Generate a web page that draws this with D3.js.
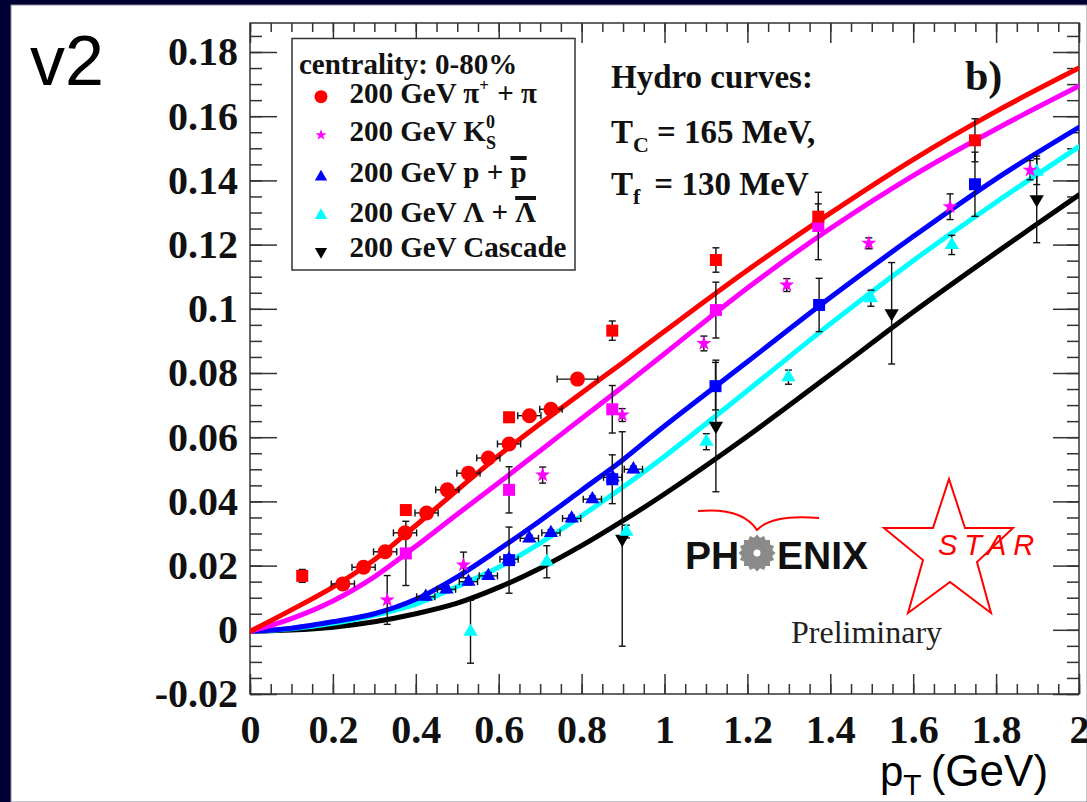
<!DOCTYPE html>
<html>
<head>
<meta charset="utf-8">
<script src="https://cdn.jsdelivr.net/npm/d3@7"></script>
<style>
    html, body { margin: 0; padding: 0; background: #000033; }
    svg { display: block; }
    text { white-space: pre; }
</style>
</head>
<body>
<svg id="chart" width="1087" height="802"></svg>
<script>
const x_ticks = [0, 0.2, 0.4, 0.6, 0.8, 1, 1.2, 1.4, 1.6, 1.8, 2];
const y_ticks = [-0.02, 0, 0.02, 0.04, 0.06, 0.08, 0.1, 0.12, 0.14, 0.16, 0.18];

// hydro curves, sampled on a common pT grid
const hydro_pt = [0, 0.1, 0.2, 0.3, 0.4, 0.5, 0.6, 0.7, 0.8, 0.9, 1.0, 1.2, 1.4, 1.6, 1.8, 2.0];
const hydro_pion = [-0.0005, 0.0062, 0.0133, 0.0218, 0.0325, 0.0435, 0.0543, 0.0642, 0.0738, 0.0833, 0.093, 0.112, 0.1298, 0.1465, 0.1615, 0.175];
const hydro_kaon = [-0.0005, 0.0035, 0.009, 0.0165, 0.026, 0.036, 0.0458, 0.0558, 0.0658, 0.0758, 0.086, 0.1065, 0.125, 0.1415, 0.156, 0.1694];
const hydro_proton = [-0.0005, 0.0005, 0.0025, 0.005, 0.0095, 0.0165, 0.025, 0.034, 0.0435, 0.053, 0.0635, 0.0835, 0.1035, 0.1225, 0.1405, 0.1565];
const hydro_lambda = [-0.0005, 0.0003, 0.002, 0.0045, 0.008, 0.0135, 0.0195, 0.027, 0.0355, 0.0445, 0.054, 0.0745, 0.0953, 0.115, 0.1332, 0.1505];
const hydro_cascade = [-0.0005, -0.0001, 0.0008, 0.0025, 0.005, 0.0083, 0.0132, 0.0192, 0.0262, 0.034, 0.0423, 0.0603, 0.0795, 0.099, 0.1175, 0.1355];

// [pT, v2, pT error, v2 error]
const pion_phenix = [
    [0.224, 0.0143, 0.028, 0.0012], [0.274, 0.0195, 0.028, 0.0012], [0.326, 0.0243, 0.028, 0.0012],
    [0.374, 0.0302, 0.028, 0.0012], [0.426, 0.0364, 0.028, 0.0012], [0.476, 0.0436, 0.028, 0.0012],
    [0.527, 0.0488, 0.028, 0.0012], [0.575, 0.0535, 0.028, 0.0012], [0.625, 0.0579, 0.028, 0.0012],
    [0.674, 0.0667, 0.028, 0.0012], [0.726, 0.0687, 0.027, 0.0012], [0.79, 0.0781, 0.049, 0.0012]
];
const pion_star = [
    [0.126, 0.0168, 0, 0.002], [0.376, 0.0373, 0, 0.0015], [0.625, 0.0662, 0, 0.0015],
    [0.874, 0.0932, 0, 0.003], [1.124, 0.1152, 0, 0.0038], [1.371, 0.1287, 0, 0.004], [1.749, 0.1525, 0, 0.0067]
];
const kaon_star = [
    [0.331, 0.0093, 0, 0.0076], [0.515, 0.0202, 0, 0.004], [0.706, 0.0482, 0, 0.0025],
    [0.898, 0.0669, 0, 0.002], [1.095, 0.0892, 0, 0.0023], [1.295, 0.1074, 0, 0.002],
    [1.493, 0.1204, 0, 0.0017], [1.689, 0.1318, 0, 0.004], [1.882, 0.1432, 0, 0.003]
];
const kaon_phenix = [
    [0.376, 0.0238, 0, 0.01], [0.625, 0.0436, 0, 0.0072], [0.874, 0.0687, 0, 0.0074],
    [1.124, 0.0996, 0, 0.0087], [1.371, 0.1258, 0, 0.0105]
];
const proton_phenix = [
    [0.424, 0.0103, 0.022, 0.001], [0.474, 0.0126, 0.022, 0.001], [0.527, 0.015, 0.022, 0.001],
    [0.575, 0.0168, 0.022, 0.001], [0.625, 0.022, 0.022, 0.001], [0.674, 0.0285, 0.022, 0.001],
    [0.726, 0.0302, 0.022, 0.001], [0.776, 0.0347, 0.022, 0.001], [0.826, 0.0407, 0.022, 0.001],
    [0.875, 0.0475, 0.022, 0.001], [0.925, 0.05, 0.022, 0.001]
];
const proton_star = [
    [0.625, 0.0217, 0, 0.0103], [0.874, 0.0469, 0, 0.0076], [1.123, 0.0759, 0, 0.0074],
    [1.373, 0.1012, 0, 0.0083], [1.749, 0.1388, 0, 0.01]
];
const lambda_star = [
    [0.532, -0.0006, 0, 0.0098], [0.716, 0.0212, 0, 0.005], [0.908, 0.0306, 0, 0.002],
    [1.101, 0.0586, 0, 0.0025], [1.299, 0.0787, 0, 0.0022], [1.498, 0.1033, 0, 0.0025],
    [1.693, 0.1199, 0, 0.003], [1.898, 0.1427, 0, 0.004]
];
const cascade_star = [
    [0.898, 0.0283, 0, 0.0334], [1.124, 0.0635, 0, 0.0205], [1.548, 0.0986, 0, 0.0158], [1.898, 0.1341, 0, 0.0135]
];

const RED = '#ff0000', MAGENTA = '#ff00ff', BLUE = '#0000ff', CYAN = '#00ffff', BLACK = '#000000';
const SERIF = '"Liberation Serif", "Times New Roman", serif';
const SANS = '"Liberation Sans", Arial, sans-serif';

const svg = d3.select('#chart');
const plot = {left: 250, right: 1079, top: 23, bottom: 694};

const x = d3.scaleLinear().domain([0, 2]).range([plot.left, plot.right]);
const y = d3.scaleLinear().domain([-0.02, 0.18]).range([plot.bottom, 52]);
const fmt = (d) => String(+d.toFixed(2));

svg.append('rect')
    .attr('x', 11).attr('y', 5).attr('width', 1076).attr('height', 797)
    .attr('fill', '#ffffff').attr('stroke', '#8a8a9a').attr('stroke-width', 1);

// axes: ticks on all four sides pointing inwards
const x_minor = d3.range(0, 41).map((i) => i * 0.05);
const y_minor = d3.range(-4, 38).map((i) => i * 0.005);

const styleAxis = (g) => {
    g.select('.domain').remove();
    g.selectAll('.tick line').attr('stroke', '#333').attr('stroke-width', 1.5);
    g.selectAll('.tick text')
        .attr('fill', '#111')
        .attr('font-family', SERIF)
        .attr('font-weight', 'bold')
        .attr('font-size', 40);
};

svg.append('g').attr('transform', `translate(0,${plot.bottom})`)
    .call(d3.axisBottom(x).tickValues(x_ticks).tickSize(-20).tickPadding(21).tickFormat(fmt)).call(styleAxis);
svg.append('g').attr('transform', `translate(0,${plot.bottom})`)
    .call(d3.axisBottom(x).tickValues(x_minor).tickSize(-10).tickFormat('')).call(styleAxis);
svg.append('g').attr('transform', `translate(0,${plot.top})`)
    .call(d3.axisTop(x).tickValues(x_ticks).tickSize(-20).tickFormat('')).call(styleAxis);
svg.append('g').attr('transform', `translate(0,${plot.top})`)
    .call(d3.axisTop(x).tickValues(x_minor).tickSize(-9).tickFormat('')).call(styleAxis);
svg.append('g').attr('transform', `translate(${plot.left},0)`)
    .call(d3.axisLeft(y).tickValues(y_ticks).tickSize(-27).tickPadding(12).tickFormat(fmt)).call(styleAxis);
svg.append('g').attr('transform', `translate(${plot.left},0)`)
    .call(d3.axisLeft(y).tickValues(y_minor).tickSize(-12).tickFormat('')).call(styleAxis);
svg.append('g').attr('transform', `translate(${plot.right},0)`)
    .call(d3.axisRight(y).tickValues(y_ticks).tickSize(-26).tickFormat('')).call(styleAxis);
svg.append('g').attr('transform', `translate(${plot.right},0)`)
    .call(d3.axisRight(y).tickValues(y_minor).tickSize(-12).tickFormat('')).call(styleAxis);

svg.append('rect')
    .attr('x', plot.left).attr('y', plot.top)
    .attr('width', plot.right - plot.left).attr('height', plot.bottom - plot.top)
    .attr('fill', 'none').attr('stroke', '#333').attr('stroke-width', 1.5);

// hydro curves
const curves = [
    {values: hydro_cascade, color: BLACK},
    {values: hydro_lambda, color: CYAN},
    {values: hydro_proton, color: BLUE},
    {values: hydro_kaon, color: MAGENTA},
    {values: hydro_pion, color: RED}
];
const line = d3.line().curve(d3.curveCatmullRom.alpha(0.5)).x((d) => x(d[0])).y((d) => y(d[1]));
svg.append('clipPath').attr('id', 'plot-clip').append('rect')
    .attr('x', plot.left).attr('y', plot.top)
    .attr('width', plot.right - plot.left).attr('height', plot.bottom - plot.top);
const curve_group = svg.append('g').attr('clip-path', 'url(#plot-clip)');
curves.forEach((c) => {
    curve_group.append('path')
        .attr('d', line(hydro_pt.map((pt, i) => [pt, c.values[i]])))
        .attr('fill', 'none')
        .attr('stroke', c.color)
        .attr('stroke-width', 5)
        .attr('stroke-linecap', 'round');
});

// data points
const series = [
    {data: cascade_star, shape: 'down', color: BLACK},
    {data: lambda_star, shape: 'triangle', color: CYAN},
    {data: proton_star, shape: 'square', color: BLUE},
    {data: proton_phenix, shape: 'triangle', color: BLUE},
    {data: kaon_phenix, shape: 'square', color: MAGENTA},
    {data: kaon_star, shape: 'star', color: MAGENTA},
    {data: pion_star, shape: 'square', color: RED},
    {data: pion_phenix, shape: 'circle', color: RED}
];

const symbolPath = (shape, scale) => {
    const k = scale || 1;
    if (shape === 'circle') return d3.symbol(d3.symbolCircle, 177 * k)();
    if (shape === 'square') return d3.symbol(d3.symbolSquare, 144 * k)();
    if (shape === 'star') return d3.symbol(d3.symbolStar, 72 * k)();
    return d3.symbol(d3.symbolTriangle, 88 * k)();
};

const error_group = svg.append('g').attr('stroke', '#111').attr('stroke-width', 1.4);
const marker_group = svg.append('g');
const cap = 3.5;

series.forEach((s) => {
    s.data.forEach(([pt, v, ex, ey]) => {
        const px = x(pt), py = y(v);
        if (ey > 0) {
            const y0 = y(v - ey), y1 = y(v + ey);
            error_group.append('line').attr('x1', px).attr('x2', px).attr('y1', y0).attr('y2', y1);
            error_group.append('line').attr('x1', px - cap).attr('x2', px + cap).attr('y1', y0).attr('y2', y0);
            error_group.append('line').attr('x1', px - cap).attr('x2', px + cap).attr('y1', y1).attr('y2', y1);
        }
        if (ex > 0) {
            const x0 = x(pt - ex), x1 = x(pt + ex);
            error_group.append('line').attr('x1', x0).attr('x2', x1).attr('y1', py).attr('y2', py);
            error_group.append('line').attr('x1', x0).attr('x2', x0).attr('y1', py - cap).attr('y2', py + cap);
            error_group.append('line').attr('x1', x1).attr('x2', x1).attr('y1', py - cap).attr('y2', py + cap);
        }
        marker_group.append('path')
            .attr('d', symbolPath(s.shape))
            .attr('transform', `translate(${px},${py})` + (s.shape === 'down' ? ' rotate(180)' : ''))
            .attr('fill', s.color);
    });
});

// text made of several pieces (sub/superscripts, overbars)
const richText = (g, x0, baseline, parts, base) => {
    let cx = x0;
    parts.forEach((p) => {
        const t = g.append('text')
            .attr('x', cx + (p.dx || 0))
            .attr('y', baseline + (p.dy || 0))
            .attr('font-family', base.family)
            .attr('font-weight', base.weight)
            .attr('font-size', p.size || base.size)
            .attr('font-style', p.italic ? 'italic' : null)
            .attr('fill', base.fill || '#111')
            .text(p.text);
        const w = t.node().getComputedTextLength();
        if (p.bar) {
            g.append('rect')
                .attr('x', cx + (p.dx || 0) + p.bar[0]).attr('y', baseline + p.bar[1])
                .attr('width', w + p.bar[2]).attr('height', 4)
                .attr('fill', '#111');
        }
        if (!p.stack) cx += w + (p.dx || 0);
    });
};

// legend
const legend = svg.append('g');
legend.append('rect')
    .attr('x', 292).attr('y', 38.5).attr('width', 283).attr('height', 231.5)
    .attr('fill', '#ffffff').attr('stroke', '#333').attr('stroke-width', 1.5);
const legend_font = {family: SERIF, weight: 'bold', size: 29};
richText(legend, 299, 74, [{text: 'centrality: 0-80%'}], legend_font);

const legend_rows = [
    {shape: 'circle', color: RED, cy: 96.7, baseline: 103,
        parts: [{text: '200 GeV π'}, {text: '+', size: 17, dy: -12}, {text: ' + π', dx: 1}]},
    {shape: 'star', color: MAGENTA, cy: 135, baseline: 141,
        parts: [{text: '200 GeV K'}, {text: '0', size: 18, dy: -13, stack: true}, {text: 'S', size: 18, dy: 8}]},
    {shape: 'triangle', color: BLUE, cy: 177, baseline: 182,
        parts: [{text: '200 GeV p + '}, {text: 'p', bar: [0, -26, 0]}]},
    {shape: 'triangle', color: CYAN, cy: 215.5, baseline: 222,
        parts: [{text: '200 GeV Λ + '}, {text: 'Λ', bar: [0, -26, 0]}]},
    {shape: 'down', color: BLACK, cy: 251.5, baseline: 257,
        parts: [{text: '200 GeV Cascade'}]}
];
legend_rows.forEach((row) => {
    legend.append('path')
        .attr('d', symbolPath(row.shape, row.shape === 'star' ? 0.55 : 0.75))
        .attr('transform', `translate(321,${row.cy})` + (row.shape === 'down' ? ' rotate(180)' : ''))
        .attr('fill', row.color);
    richText(legend, 349.5, row.baseline, row.parts, legend_font);
});

// hydro annotation
const note_font = {family: SERIF, weight: 'bold', size: 33};
richText(svg, 611, 88, [{text: 'Hydro curves:'}], note_font);
richText(svg, 611, 143, [{text: 'T'}, {text: 'C', size: 22, dy: 9}, {text: '= 165 MeV,', dx: 8}], note_font);
richText(svg, 611, 195, [{text: 'T'}, {text: 'f', size: 22, dy: 9}, {text: '= 130 MeV', dx: 14}], note_font);
richText(svg, 965, 90, [{text: 'b)'}], {family: SERIF, weight: 'bold', size: 42});

// PHENIX logo
const logo = svg.append('g');
logo.append('path')
    .attr('d', 'M698,511 Q742,507 757,530 Q772,514 819,518')
    .attr('fill', 'none').attr('stroke', RED).attr('stroke-width', 2);
richText(logo, 685, 569, [{text: 'PH'}], {family: SANS, weight: 'bold', size: 39});
richText(logo, 777, 569, [{text: 'ENIX'}], {family: SANS, weight: 'bold', size: 39});
const gear = d3.lineRadial().curve(d3.curveLinearClosed)
    .angle((d, i) => i * Math.PI / 16)
    .radius((d, i) => (i % 2 === 0 ? 18.5 : 15.5));
logo.append('path')
    .attr('d', gear(d3.range(32)))
    .attr('transform', 'translate(757,553)')
    .attr('fill', '#8a8a8a');
logo.append('circle').attr('cx', 757).attr('cy', 553).attr('r', 3.5).attr('fill', '#ffffff');

// STAR logo
const star_outline = [[949, 479], [965, 528], [1013, 528], [977, 562], [991, 613], [950, 582],
    [908, 613], [923, 560], [884, 528], [933, 528]];
svg.append('path')
    .attr('d', 'M' + star_outline.map((p) => p.join(',')).join('L') + 'Z')
    .attr('fill', 'none').attr('stroke', RED).attr('stroke-width', 2).attr('stroke-linejoin', 'miter');
svg.append('text')
    .attr('x', 938).attr('y', 555)
    .attr('font-family', SANS).attr('font-style', 'italic').attr('font-size', 29)
    .attr('letter-spacing', 7).attr('fill', RED)
    .text('STAR');

svg.append('text')
    .attr('x', 791).attr('y', 643)
    .attr('font-family', SERIF).attr('font-size', 32).attr('fill', '#222')
    .text('Preliminary');

// outer labels
svg.append('text')
    .attr('x', 30).attr('y', 85)
    .attr('font-family', SANS).attr('font-size', 70).attr('fill', '#000')
    .text('v2');
richText(svg, 880, 786, [{text: 'p'}, {text: 'T', size: 30, dy: 9}, {text: '(GeV)', size: 44, dx: 9}],
    {family: SANS, weight: 'normal', size: 42, fill: '#000'});
</script>
</body>
</html>
